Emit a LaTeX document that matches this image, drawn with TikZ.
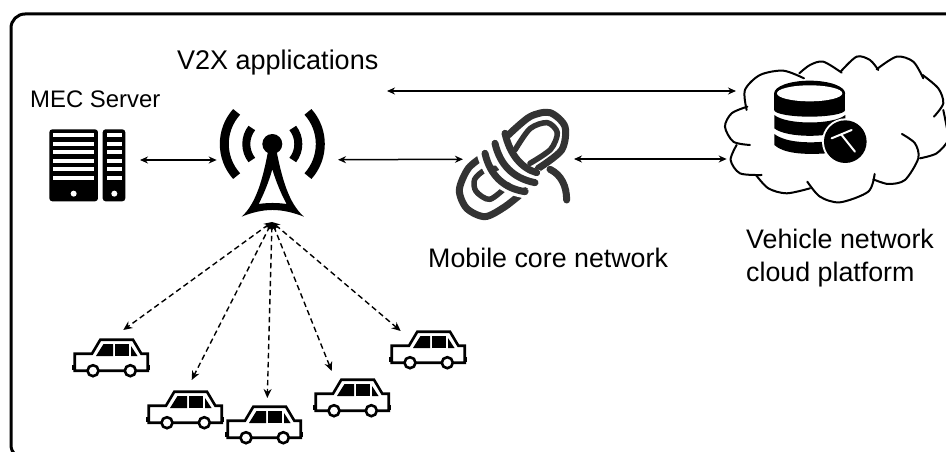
\documentclass[tikz,border=0pt]{standalone}
\usepackage{fontspec}
\setmainfont{Liberation Sans}
\usetikzlibrary{arrows.meta}
\tikzset{
  x=1pt,y=-1pt,
  link/.style={line width=1.5pt,{Stealth[length=8pt,width=7pt]}-{Stealth[length=8pt,width=7pt]}},
  radio/.style={line width=1.4pt,dash pattern=on 5.5pt off 3.5pt,{Stealth[length=8pt,width=7pt]}-{Stealth[length=9pt,width=8pt]}},
  anchorbox/.style={inner sep=0pt,outer sep=0pt,minimum height=20pt},
  lbl/.style={inner sep=0pt,anchor=base west,font=\fontsize{#1}{#1}\selectfont},
  cloudline/.style={line width=2pt,black,line cap=round},
  rope/.style={line width=7pt,draw=black!80,line cap=round,line join=round},
  rope thin/.style={line width=5.5pt,draw=black!80,line cap=round,line join=round},
  rope gap/.style={line width=9.5pt,draw=white,line cap=butt},
  car/.pic={
    \draw[line width=2.6pt,fill=white,line join=miter] (2.7,14.7) -- (20,14.7) -- (28.3,0.7) -- (61,0.7) -- (69.3,14.7) -- (75.7,14.7) -- (75.7,31.7) -- (2.7,31.7) -- cycle;
    \fill (0,26) rectangle (2.7,31);
    \fill (75.7,26) rectangle (78,31);
    \fill (24,17) -- (31.5,5) -- (41,5) -- (41,17) -- cycle;
    \fill (43.3,5) rectangle (57,17);
    \fill (59,7) -- (65.5,17) -- (59,17) -- cycle;
    \draw[line width=2.6pt,fill=white] (21,31.7) circle (5.5);
    \draw[line width=2.6pt,fill=white] (58.3,31.7) circle (5.5);
  },
}
\begin{document}
\begin{tikzpicture}[x=1pt,y=-1pt]
\useasboundingbox (0,0) rectangle (946,452);
\begin{scope}
\clip (0,0) rectangle (946,452);
\draw[line width=3pt,rounded corners=14pt] (11,14) rectangle (990,459);
\end{scope}
% hidden frames that the connectors attach to
\node[anchorbox,minimum width=106pt] (mec) at (87,160) {};
\node[anchorbox,minimum width=121.3pt] (tower) at (277.35,160) {};
\node[anchorbox,minimum width=111pt] (coil) at (518.5,159) {};
\node[anchorbox,minimum width=180pt] (cloud) at (816.7,159) {};
\coordinate (v2x) at (387,91);
\coordinate (cloudtop) at (736,91);
\coordinate (hub) at (272,222);
\coordinate (t1) at (123.3,330);
\coordinate (t2) at (191.7,380);
\coordinate (t3) at (267.3,398);
\coordinate (t4) at (331.7,371);
\coordinate (t5) at (400.7,331);
% server
\begin{scope}[shift={(20,60)},scale=0.3333]
\fill[rounded corners=3pt] (88,208) rectangle (234,424);
\fill[rounded corners=3pt] (248,208) rectangle (316,424);
\foreach \y in {226,252,277,303,328,354}{
  \fill[white] (100,\y-6) rectangle (222,\y+6);
  \fill[white] (260,\y-6) rectangle (305,\y+6);
}
\fill[white] (161,401) circle (9);
\fill[white] (283,401) circle (9);
\end{scope}
% tower
\begin{scope}[shift={(272.3,144)}]
\fill (0,0) circle (10);
\draw[line width=8pt] (-142:26) arc[start angle=-142,end angle=-218,radius=26];
\draw[line width=8pt] (-38:26) arc[start angle=-38,end angle=38,radius=26];
\draw[line width=9pt] (-138:48) arc[start angle=-138,end angle=-222,radius=48];
\draw[line width=9pt] (-42:48) arc[start angle=-42,end angle=42,radius=48];
\end{scope}
\begin{scope}[shift={(20,60)},scale=0.3333]
\fill[even odd rule] (745,270) -- (769,270) .. controls (785,350) and (805,430) .. (852,470) .. controls (820,458) and (790,450) .. (757,450) .. controls (725,450) and (695,458) .. (665,470) .. controls (710,430) and (730,350) .. (745,270) -- cycle
 (757,328) .. controls (745,370) and (730,405) .. (716,432) .. controls (745,428) and (770,428) .. (800,432) .. controls (785,405) and (770,370) .. (757,328) -- cycle;
\end{scope}
% coil of rope
\begin{scope}[shift={(450,100)},scale=0.3333]
\draw[rope] (300,208) .. controls (335,225) and (350,260) .. (350,300);
\draw[rope] plot[smooth] coordinates {(175,105) (240,50) (300,38) (345,80) (335,150) (265,205)};
\draw[rope thin] plot[smooth] coordinates {(195,150) (240,86) (292,68) (322,98) (302,148) (240,190)};
\draw[rope] plot[smooth] coordinates {(105,165) (55,205) (28,270) (50,325) (105,350) (165,320) (225,272)};
\draw[rope thin] plot[smooth] coordinates {(140,205) (105,210) (74,238) (78,274) (120,298) (175,255)};
\draw[rope gap] (150,92) .. controls (170,165) and (205,210) .. (268,225);
\draw[rope] (165,100) .. controls (180,165) and (215,205) .. (260,218);
\draw[rope gap] (122,122) .. controls (140,195) and (180,240) .. (262,252);
\draw[rope] (135,130) .. controls (150,195) and (190,235) .. (255,248);
\draw[rope gap] (92,152) .. controls (110,225) and (150,270) .. (232,282);
\draw[rope] (105,160) .. controls (120,225) and (160,265) .. (225,275);
\end{scope}
% cloud
\begin{scope}[shift={(440,60)},scale=0.3333]
\draw[cloudline] plot[smooth] coordinates {(920,150) (915,90) (960,45) (1030,32) (1092,55)};
\draw[cloudline] plot[smooth] coordinates {(1078,40) (1110,15) (1150,5) (1205,38)};
\draw[cloudline] plot[smooth] coordinates {(1202,35) (1250,-10) (1290,0) (1315,30)};
\draw[cloudline] plot[smooth] coordinates {(1310,28) (1370,-10) (1420,5) (1450,55)};
\draw[cloudline] plot[smooth] coordinates {(1448,45) (1495,85) (1510,130) (1482,170)};
\draw[cloudline] plot[smooth] coordinates {(1510,150) (1520,200)  (1525,240) (1490,280) (1440,295)};
\draw[cloudline] plot[smooth] coordinates {(1386,222) (1425,250) (1435,295) (1395,360) (1345,372) (1300,358)};
\draw[cloudline] plot[smooth] coordinates {(1304,342) (1285,395) (1200,427) (1140,410) (1102,365)};
\draw[cloudline] plot[smooth] coordinates {(1110,385) (1040,400) (985,385) (948,345)};
\draw[cloudline] plot[smooth] coordinates {(965,345) (900,340) (872,300) (890,255)};
\draw[cloudline] plot[smooth] coordinates {(930,255) (880,245) (855,200) (875,160) (922,140)};
% database
\fill (1003,100) rectangle (1216,150);
\fill (1109,100) ellipse [x radius=106.5,y radius=38];
\fill (1109,150) ellipse [x radius=106.5,y radius=20];
\fill[white] (1109,100) ellipse [x radius=98,y radius=24];
\fill (1003,165) .. controls (1040,195) and (1180,195) .. (1216,165) -- (1216,205) .. controls (1180,235) and (1040,235) .. (1003,205) -- cycle;
\fill (1003,222) .. controls (1040,250) and (1120,252) .. (1190,240) -- (1160,280) .. controls (1090,285) and (1030,280) .. (1003,255) -- cycle;
\fill[white] (1216,245) circle (70);
\fill (1216,245) circle (64);
\draw[white,line width=2pt,line cap=round] (1175,235) -- (1235,210) (1205,225) -- (1245,275);
\end{scope}
% cars
\path (72,339) pic {car};
\path (146,391) pic {car};
\path (225,406) pic {car};
\path (313,379) pic {car};
\path (389,331) pic {car};
% connectors
\draw[link] (mec) -- (tower);
\draw[link] (tower) -- (coil);
\draw[link] (coil) -- (cloud);
\draw[link] (v2x) -- (cloudtop);
\draw[radio] (hub) -- (t1);
\draw[radio] (hub) -- (t2);
\draw[radio] (hub) -- (t3);
\draw[radio] (hub) -- (t4);
\draw[radio] (hub) -- (t5);
% labels
\node[lbl=27] (a) at (177,70) {V2X applications};
\node[lbl=23.9] (b) at (30,107) {MEC Server};
\node[lbl=26.8] (c) at (428,267) {Mobile core network};
\node[lbl=26.8] (d) at (746,248) {Vehicle network};
\node[lbl=26.8] (e) at (746,281) {cloud platform};
\end{tikzpicture}
\end{document}
